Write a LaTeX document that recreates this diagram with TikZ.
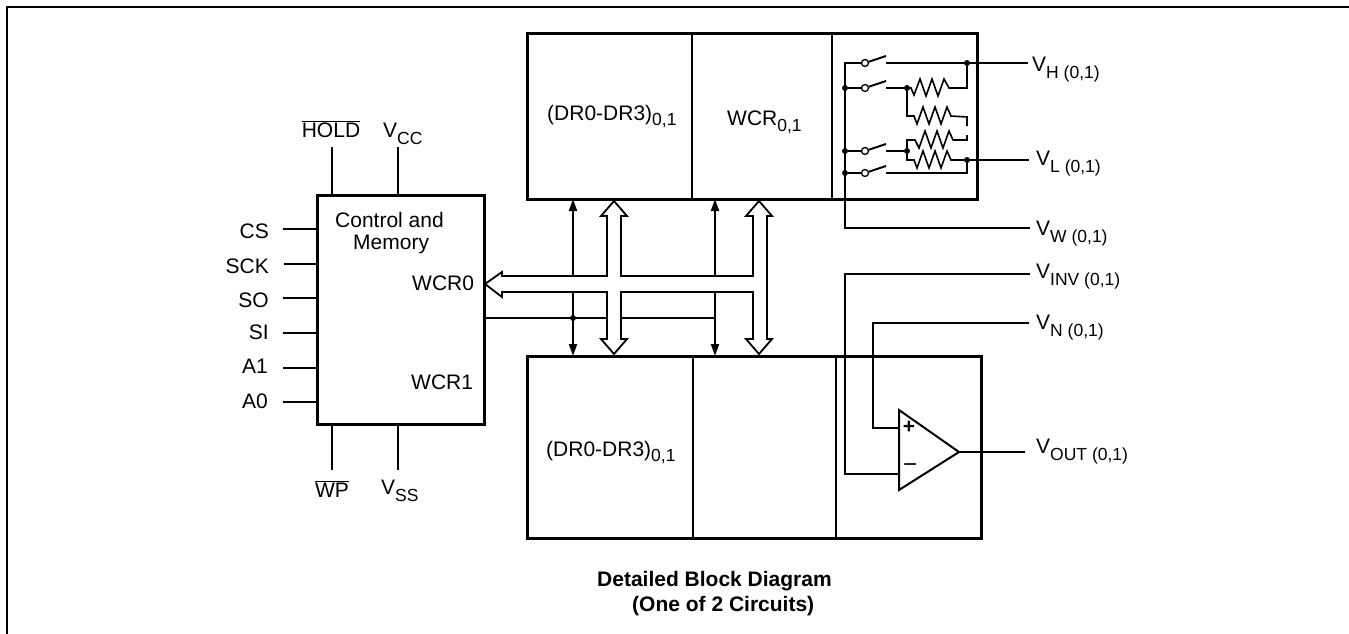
\documentclass[tikz,border=0pt]{standalone}
\usepackage{fontspec}
\setmainfont{Liberation Sans}
\usetikzlibrary{arrows.meta}

\newcommand{\sublabel}[2]{#1\raisebox{-7pt}{\fontsize{17.5}{18}\selectfont #2}}

\tikzset{
  box node/.style={draw,line width=3pt,anchor=north west,inner sep=0pt,outer sep=0pt},
  label node/.style={anchor=base west,inner sep=0pt,font=\fontsize{21}{24}\selectfont},
  pin node/.style={anchor=base east,inner sep=0pt,font=\fontsize{21}{24}\selectfont},
  dot node/.style={circle,fill=black,inner sep=0pt,minimum size=6pt},
  switch node/.style={circle,draw,fill=white,line width=1.3pt,inner sep=0pt,minimum size=7pt},
  wire/.style={line width=2pt},
  res wire/.style={line width=1.6pt},
  thin arrow/.style={line width=2pt,-{Triangle[length=12pt,width=8pt]}},
  bus/.style={line width=1.8pt,line join=miter}
}

\begin{document}
\begin{tikzpicture}[x=1pt,y=-1pt]
  \useasboundingbox (0,0) rectangle (1349,634);

  % outer frame
  \coordinate (f1) at (7,634);
  \coordinate (f2) at (7,7);
  \coordinate (f3) at (1349,7);
  \draw[line width=2.4pt] (f1) -- (f2) -- (f3);

  % blocks
  \node[box node,minimum width=167pt,minimum height=229pt] (ctrl) at (317,195) {};
  \node[box node,minimum width=450pt,minimum height=165pt] (top) at (527,34) {};
  \node[box node,minimum width=454pt,minimum height=182pt] (bot) at (527,356) {};
  \draw[wire] (692,34) -- (692,199);
  \draw[wire] (832,34) -- (832,199);
  \draw[wire] (693,356) -- (693,538);
  \draw[wire] (836,356) -- (836,538);

  % block texts
  \node[label node] (t1) at (335,227) {Control and};
  \node[label node] (t2) at (353,249) {Memory};
  \node[label node] (t3) at (412,290) {WCR0};
  \node[label node] (t4) at (411,389) {WCR1};
  \node[label node] (t5) at (547,120) {(DR0-DR3)\raisebox{-5pt}{\fontsize{17.5}{18}\selectfont 0,1}};
  \node[label node] (t6) at (727,125) {WCR\raisebox{-6pt}{\fontsize{17.5}{18}\selectfont 0,1}};
  \node[label node] (t7) at (546,456) {(DR0-DR3)\raisebox{-5pt}{\fontsize{17.5}{18}\selectfont 0,1}};

  % pins of the control block
  \node[pin node] (cs) at (269,238) {CS};
  \node[pin node] (sck) at (269,273) {SCK};
  \node[pin node] (so) at (269,307) {SO};
  \node[pin node] (si) at (269,339) {SI};
  \node[pin node] (a1) at (268,373) {A1};
  \node[pin node] (a0) at (268,408) {A0};
  \coordinate (cs a) at (283,229);
  \coordinate (sck a) at (284,264);
  \coordinate (so a) at (283,298);
  \coordinate (si a) at (283,333);
  \coordinate (a1 a) at (283,368);
  \coordinate (a0 a) at (283,402);
  \draw[wire] (cs a) -- (cs a -| ctrl.west);
  \draw[wire] (sck a) -- (sck a -| ctrl.west);
  \draw[wire] (so a) -- (so a -| ctrl.west);
  \draw[wire] (si a) -- (si a -| ctrl.west);
  \draw[wire] (a1 a) -- (a1 a -| ctrl.west);
  \draw[wire] (a0 a) -- (a0 a -| ctrl.west);

  \node[label node,anchor=base] (hold) at (331,137) {$\overline{\mbox{HOLD}}$};
  \node[label node] (vcc) at (383,137) {\sublabel{V}{CC}};
  \node[label node,anchor=base] (wp) at (332,497) {$\overline{\mbox{WP}}$};
  \node[label node] (vss) at (381,494) {\sublabel{V}{SS}};
  \coordinate (hold a) at (332,147);
  \coordinate (vcc a) at (398,147);
  \coordinate (wp a) at (332,470);
  \coordinate (vss a) at (398,470);
  \draw[wire] (hold a) -- (hold a |- ctrl.north);
  \draw[wire] (vcc a) -- (vcc a |- ctrl.north);
  \draw[wire] (wp a) -- (wp a |- ctrl.south);
  \draw[wire] (vss a) -- (vss a |- ctrl.south);

  % buses
  \draw[bus] (607,276) -- (502,276) -- (502,272) -- (485,284) -- (502,297) -- (502,292) -- (607,292)
    -- (607,339) -- (601,339) -- (614,354) -- (627,339) -- (621,339) -- (621,292) -- (753,292)
    -- (753,339) -- (746,339) -- (759,354) -- (772,339) -- (767,339) -- (767,216) -- (772,216)
    -- (759,201) -- (746,216) -- (753,216) -- (753,276) -- (621,276) -- (621,216) -- (627,216)
    -- (614,201) -- (601,216) -- (607,216) -- cycle;

  % control lines
  \node[dot node] (d1) at (573,318) {};
  \coordinate (c1) at (484,318);
  \coordinate (c2) at (607,318);
  \coordinate (c3) at (621,318);
  \coordinate (c4) at (715,318);
  \coordinate (u1) at (573,276);
  \coordinate (u2) at (715,276);
  \coordinate (l1) at (573,292);
  \coordinate (l2) at (715,292);
  \draw[wire] (c1) -- (c2);
  \draw[wire] (c3) -- (c4);
  \draw[thin arrow] (u1) -- (u1 |- top.south);
  \draw[thin arrow] (u2) -- (u2 |- top.south);
  \draw[thin arrow] (l1) -- (l1 |- bot.north);
  \draw[thin arrow] (l2) -- (l2 |- bot.north);

  % switches and resistors
  \node[dot node] (j2) at (845,88) {};
  \node[dot node] (j3) at (845,151) {};
  \node[dot node] (j4) at (845,173) {};
  \node[dot node] (r2) at (907,88) {};
  \node[dot node] (r3) at (907,151) {};
  \node[dot node] (h) at (967,63) {};
  \node[dot node] (l) at (967,160) {};
  \node[switch node] (s1) at (865,63) {};
  \node[switch node] (s2) at (865,88) {};
  \node[switch node] (s3) at (865,151) {};
  \node[switch node] (s4) at (865,173) {};
  \coordinate (b1) at (886,56);
  \coordinate (b2) at (886,81);
  \coordinate (b3) at (886,144);
  \coordinate (b4) at (886,166);
  \coordinate (k1) at (886,63);
  \coordinate (k2) at (886,88);
  \coordinate (k3) at (886,151);
  \coordinate (k4) at (886,173);
  \coordinate (w) at (845,228);
  \draw[wire] (s1) -- (s1 -| w) -- (w) -- (1030,228);
  \draw[wire] (j2) -- (s2);
  \draw[wire] (j3) -- (s3);
  \draw[wire] (j4) -- (s4);
  \draw[wire] (s1) -- (b1);
  \draw[wire] (s2) -- (b2);
  \draw[wire] (s3) -- (b3);
  \draw[wire] (s4) -- (b4);
  \draw[wire] (k1) -- (h);
  \draw[wire] (k2) -- (r2);
  \draw[wire] (k3) -- (r3);
  \draw[wire] (k4) -- (967,173) -- (l);
  \draw[wire] (h) -- (1028,63);
  \draw[wire] (l) -- (1029,160);
  \draw[res wire] (h) -- (967,88) -- (952,88) -- ++(-3,0) -- ++(-5,-9) -- ++(-6,17) -- ++(-6,-17) -- ++(-6,17) -- ++(-6,-17) -- ++(-6,16) -- ++(-3,-7) -- (r2);
  \draw[res wire] (r2) -- (907,116) -- (914,116) -- ++(3,8) -- ++(6,-17) -- ++(6,17) -- ++(6,-17) -- ++(6,17) -- ++(6,-17) -- ++(4,9) -- (967,117) -- (967,126);
  \draw[res wire] (967,135) -- (967,140) -- (953,140) -- ++(-4,-9) -- ++(-6,17) -- ++(-6,-17) -- ++(-6,17) -- ++(-6,-17) -- ++(-6,17) -- ++(-4,-8) -- (907,140) -- (r3);
  \draw[res wire] (r3) -- (907,160) -- (914,160) -- ++(3,8) -- ++(6,-17) -- ++(6,17) -- ++(6,-17) -- ++(6,17) -- ++(6,-17) -- ++(4,9) -- (l);

  % amplifier
  \coordinate (a) at (899,410);
  \coordinate (b) at (899,490);
  \coordinate (o) at (959,452);
  \draw[wire,line join=miter] (a) -- (o) -- (b) -- cycle;
  \coordinate (in1) at (899,428);
  \coordinate (in2) at (899,474);
  \node[label node,anchor=center,font=\fontsize{21}{24}\selectfont\bfseries] (plus) at (909,427) {+};
  \node[label node,anchor=center,font=\fontsize{24}{24}\selectfont] (minus) at (910,468) {\textminus};
  \draw[wire] (in1) -- (873,428) -- (873,323) -- (1029,323);
  \draw[wire] (in2) -- (845,474) -- (845,274) -- (1030,274);
  \draw[wire] (o) -- (1025,452);

  % outputs
  \node[label node] (vh) at (1032,71) {\sublabel{V}{H (0,1)}};
  \node[label node] (vl) at (1036,165) {\sublabel{V}{L (0,1)}};
  \node[label node] (vw) at (1036,235) {\sublabel{V}{W (0,1)}};
  \node[label node] (vinv) at (1036,278) {\sublabel{V}{INV (0,1)}};
  \node[label node] (vn) at (1036,329) {\sublabel{V}{N (0,1)}};
  \node[label node] (vout) at (1036,453) {\sublabel{V}{OUT (0,1)}};

  % caption
  \node[label node,font=\fontsize{21}{24}\selectfont\bfseries] (cap1) at (597,586) {Detailed Block Diagram};
  \node[label node,font=\fontsize{21}{24}\selectfont\bfseries] (cap2) at (632,611) {(One of 2 Circuits)};
\end{tikzpicture}
\end{document}
